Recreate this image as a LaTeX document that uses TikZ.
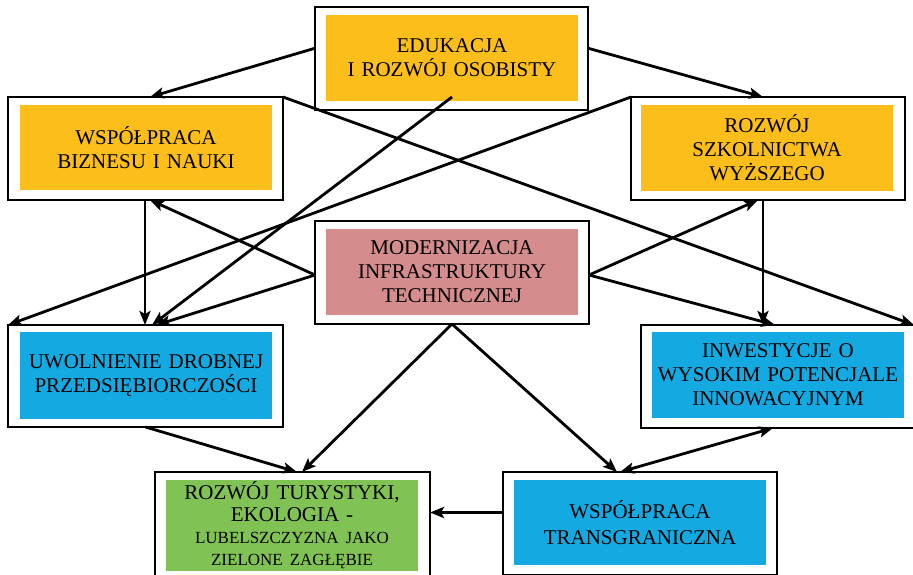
\documentclass[tikz,border=0pt]{standalone}
\usepackage{fontspec}
\setmainfont{Liberation Serif}
\usetikzlibrary{arrows.meta,calc}
\definecolor{boxgold}{RGB}{252,190,26}
\definecolor{boxrose}{RGB}{212,140,140}
\definecolor{boxblue}{RGB}{20,170,225}
\definecolor{boxgreen}{RGB}{128,194,84}
\tikzset{
  frame/.style={draw=black, line width=1.4pt, fill=white, inner sep=0pt, outer sep=0pt},
  inbox/.style={fill=#1, draw=none, inner sep=0pt, outer sep=0pt, minimum width=252pt,
    text width=252pt, align=center, font=\fontsize{21}{24}\selectfont},
  tipA/.tip={Stealth[length=14pt,width=11pt,inset=3pt]},
  conn/.style={line width=2.8pt, -tipA},
  biconn/.style={line width=2.8pt, tipA-tipA}
}
\begin{document}
\begin{tikzpicture}[x=1pt,y=-1pt]
\useasboundingbox (0,0) rectangle (913,575);
% outer frames
\node[frame, minimum width=273pt, minimum height=103pt] (edu) at (451.5,58.5) {};
\node[frame, minimum width=275pt, minimum height=103pt] (wb) at (145.5,148.5) {};
\node[frame, minimum width=274pt, minimum height=103pt] (rsw) at (768,148.5) {};
\node[frame, minimum width=274pt, minimum height=103pt] (mod) at (452,272.5) {};
\node[frame, minimum width=275pt, minimum height=102pt] (udp) at (145.5,376) {};
\node[frame, minimum width=273pt, minimum height=103pt] (inw) at (777.5,376.5) {};
\node[frame, minimum width=275pt, minimum height=108pt] (rt) at (292.5,526) {};
\node[frame, minimum width=274pt, minimum height=103pt] (wt) at (640,523.5) {};
% inner coloured boxes
\node[inbox=boxgold, minimum height=86pt] (eduIn) at (452,58) {EDUKACJA\\I ROZWÓJ OSOBISTY};
\node[inbox=boxgold, minimum height=85pt] (wbIn) at (146,147.5) {WSPÓŁPRACA\\BIZNESU I NAUKI};
\node[inbox=boxgold, minimum height=86pt] (rswIn) at (767,148) {ROZWÓJ\\SZKOLNICTWA\\WYŻSZEGO};
\node[inbox=boxrose, minimum height=86pt] (modIn) at (452,272) {MODERNIZACJA\\INFRASTRUKTURY\\TECHNICZNEJ};
\node[inbox=boxblue, minimum height=87pt] (udpIn) at (146,375.5) {UWOLNIENIE DROBNEJ\\PRZEDSIĘBIORCZOŚCI};
\node[inbox=boxblue, minimum height=86pt] (inwIn) at (778,375) {INWESTYCJE O\\WYSOKIM POTENCJALE\\INNOWACYJNYM};
\node[inbox=boxgreen, minimum height=91pt, font=\fontsize{21}{22}\selectfont] (rtIn) at (292,525.5)
  {ROZWÓJ TURYSTYKI,\\EKOLOGIA -\\\fontsize{17}{22}\selectfont LUBELSZCZYZNA JAKO\\ZIELONE ZAGŁĘBIE};
\node[inbox=boxblue, minimum height=85pt, font=\fontsize{21}{26}\selectfont] (wtIn) at (640,522.5) {WSPÓŁPRACA\\TRANSGRANICZNA};
% connector points
\coordinate (eduL) at ($(edu.north west)!0.4!(edu.south west)$);
\coordinate (eduR) at ($(edu.north east)!0.4!(edu.south east)$);
\coordinate (eduB) at ($(eduIn.south)+(0,-4)$);
\coordinate (modL) at ($(mod.west)+(0,2.5)$);
\coordinate (modR) at ($(mod.east)+(0,2.5)$);
\coordinate (wtL) at ($(wt.west)+(0,-11)$);
% connectors
\draw[conn] (eduL) -- ($(wb.north)+(4.5,0)$);
\draw[conn] (eduR) -- ($(rsw.north)+(-5,0)$);
\draw[conn] (eduB) -- ($(udp.north)+(6.5,0)$);
\draw[conn] (wb.north east) -- (inw.north east);
\draw[conn] (rsw.north west) -- (udp.north west);
\draw[conn] ($(wb.south)+(-0.5,0)$) -- ($(udp.north)+(-0.5,0)$);
\draw[conn] (modL) -- ($(wb.south)+(4.5,0)$);
\draw[conn] (modL) -- ($(udp.north)+(11,0)$);
\draw[conn] ($(rsw.south)+(-5,0)$) -- ($(inw.north)+(-14.5,0)$);
\draw[conn] (modR) -- ($(rsw.south)+(-10,0)$);
\draw[conn] (modR) -- ($(inw.north)+(-2.5,0)$);
\draw[conn] (udp.south) -- ($(rt.north)+(4.5,0)$);
\draw[conn] (mod.south) -- ($(rt.north)+(9.5,0)$);
\draw[conn] (mod.south) -- ($(wt.north)+(-23,0)$);
\draw[biconn] ($(inw.south)+(-4.5,0)$) -- ($(wt.north)+(-20,0)$);
\draw[conn] (wtL) -- (wtL -| rt.east);
\end{tikzpicture}
\end{document}
